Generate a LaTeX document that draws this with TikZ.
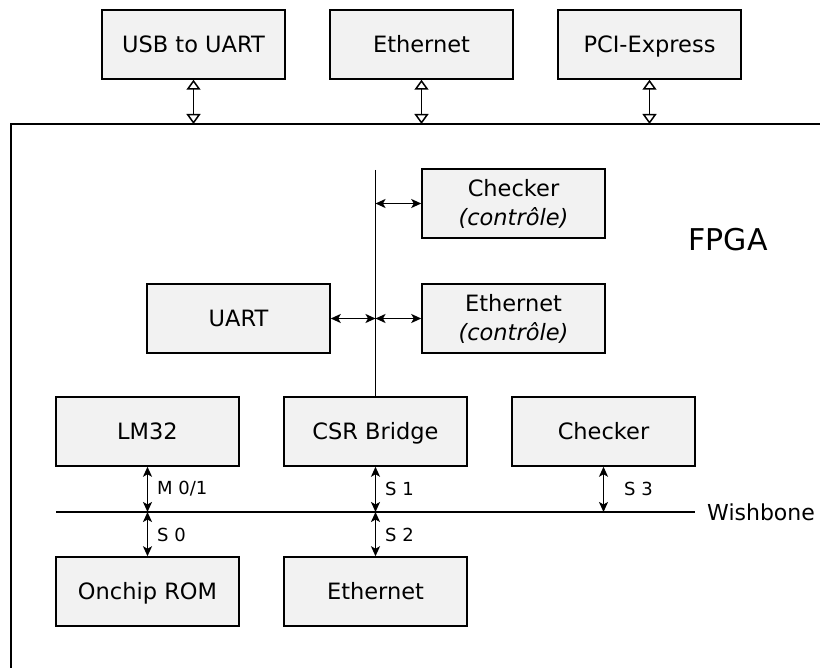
\documentclass[tikz,border=0pt]{standalone}
\usepackage{fontspec}
\setmainfont{DejaVu Sans}
\usetikzlibrary{arrows.meta}
\definecolor{boxgray}{HTML}{F2F2F2}
\tikzset{
  blk/.style={draw, fill=boxgray, line width=1.5pt, minimum width=183pt, minimum height=69pt, inner sep=0pt, align=center, font=\fontsize{22.5}{29}\selectfont},
  one/.style={blk, text height=20pt, text depth=4pt},
  ln/.style={line width=1.5pt},
  bi/.style={line width=1.5pt, {Stealth[length=10pt,width=9pt,inset=2.5pt]}-{Stealth[length=10pt,width=9pt,inset=2.5pt]}},
  obi/.style={line width=1.5pt, {Triangle[length=10pt,width=14pt,fill=white]}-{Triangle[length=10pt,width=14pt,fill=white]}},
  lbl/.style={anchor=west, inner sep=0pt, font=\fontsize{18}{20}\selectfont},
}
\begin{document}
\begin{tikzpicture}[x=1pt,y=-1pt]
\useasboundingbox (0,0) rectangle (820,668);
% FPGA boundary
\coordinate (fr) at (820,124);
\coordinate (fc) at (11,124);
\coordinate (fb) at (11,668);
\draw[ln] (fr) -- (fc) -- (fb);
\node[font=\fontsize{30}{36}\selectfont, inner sep=0pt] (fpga) at (728,240) {FPGA};

% top boxes
\node[one] (usb) at (193.5,44.5) {USB to UART};
\node[one] (ethtop) at (421.5,44.5) {Ethernet};
\node[one] (pci) at (649.5,44.5) {PCI-Express};
\coordinate (usbb) at (193.5,124);
\coordinate (ethtopb) at (421.5,124);
\coordinate (pcib) at (649.5,124);
\draw[obi] (usb.south) -- (usbb);
\draw[obi] (ethtop.south) -- (ethtopb);
\draw[obi] (pci.south) -- (pcib);

% CSR side
\node[blk] (chkc) at (513.5,203.5) {Checker\\\itshape (contrôle)};
\node[blk] (ethc) at (513.5,318.5) {Ethernet\\\itshape (contrôle)};
\node[one] (uart) at (238.5,318.5) {UART};

% bottom
\node[one] (lm32) at (147.5,431.5) {LM32};
\node[one] (csr) at (375.5,431.5) {CSR Bridge};
\node[one] (chk) at (603.5,431.5) {Checker};
\node[one] (rom) at (147.5,591.5) {Onchip ROM};
\node[one] (eth) at (375.5,591.5) {Ethernet};

% CSR bus
\coordinate (bustop) at (375.5,170);
\coordinate (bus1) at (375.5,203.5);
\coordinate (bus2) at (375.5,318.5);
\draw[ln] (bustop) -- (csr.north);
\draw[bi] (bus1) -- (chkc.west);
\draw[bi] (uart.east) -- (bus2);
\draw[bi] (bus2) -- (ethc.west);

% Wishbone
\coordinate (wbl) at (56,512);
\coordinate (wbr) at (695,512);
\draw[ln] (wbl) -- (wbr);
\node[anchor=west, inner sep=0pt, font=\fontsize{22}{26}\selectfont] (wbt) at (707,512) {Wishbone};
\coordinate (wb1) at (147.5,512);
\coordinate (wb2) at (375.5,512);
\coordinate (wb3) at (603.5,512);
\draw[bi] (lm32.south) -- (wb1);
\draw[bi] (wb1) -- (rom.north);
\draw[bi] (csr.south) -- (wb2);
\draw[bi] (wb2) -- (eth.north);
\draw[bi] (chk.south) -- (wb3);
\node[lbl] (m01) at (157,489) {M 0/1};
\node[lbl] (s0) at (157,535) {S 0};
\node[lbl] (s1) at (385,489) {S 1};
\node[lbl] (s2) at (385,535) {S 2};
\node[lbl] (s3) at (624,489) {S 3};
\end{tikzpicture}
\end{document}
